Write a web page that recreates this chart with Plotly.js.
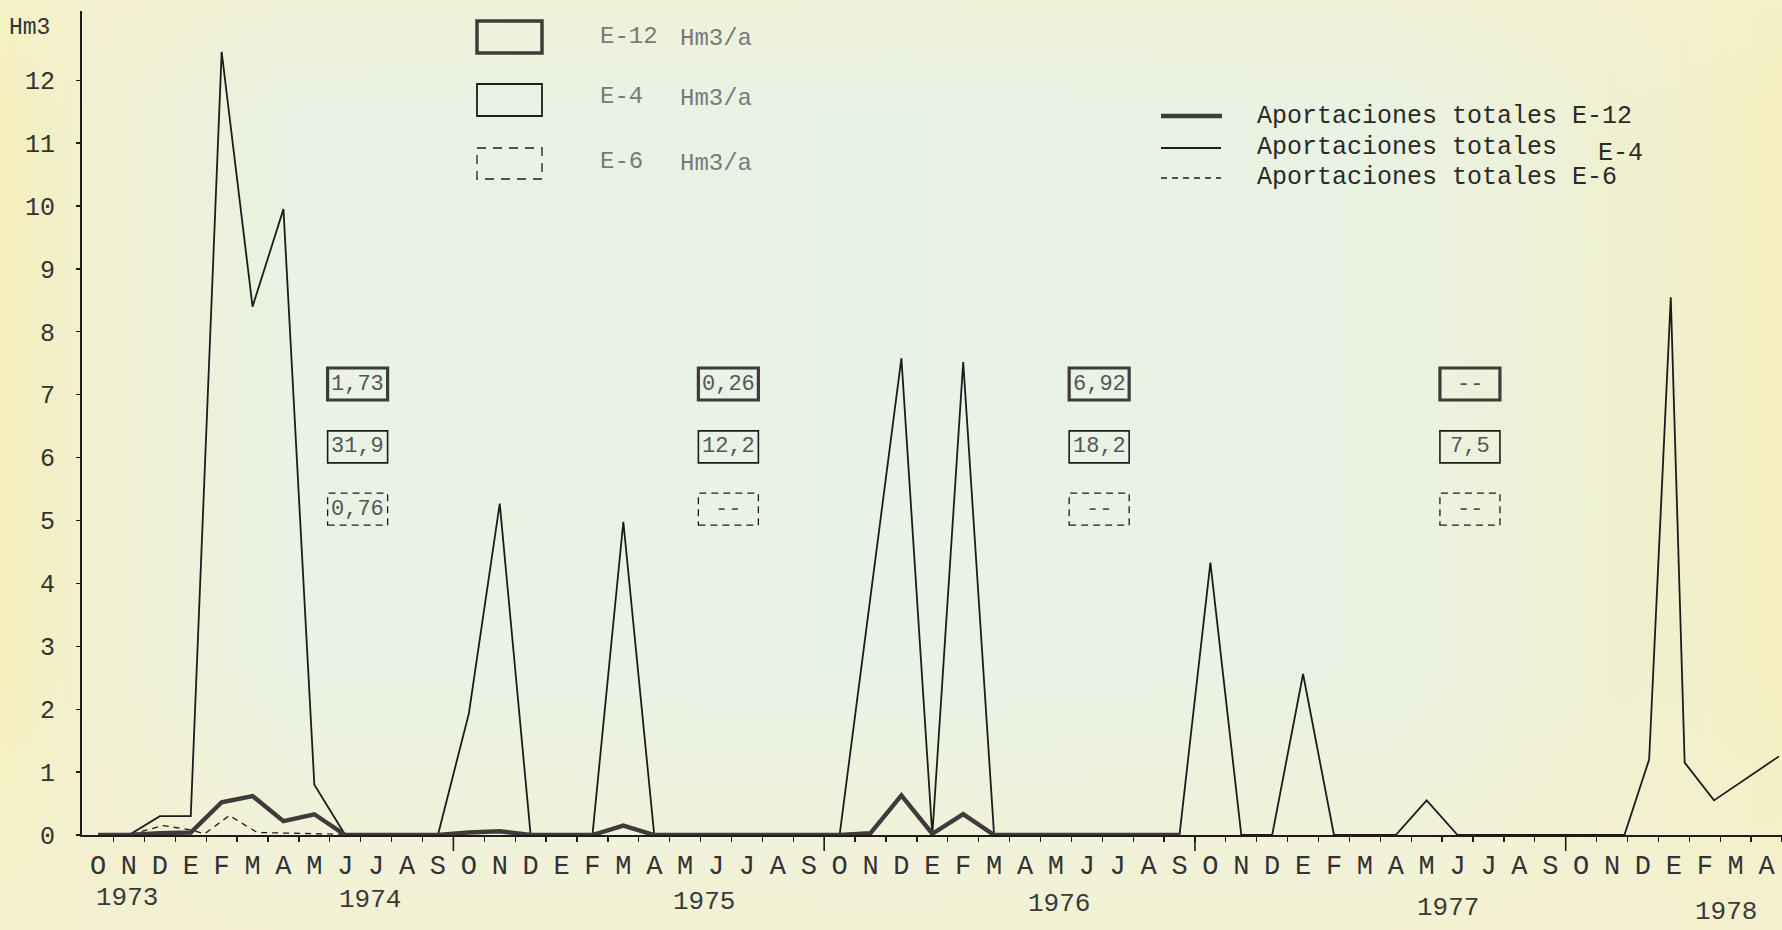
<!DOCTYPE html>
<html>
<head>
<meta charset="utf-8">
<script src="https://cdn.plot.ly/plotly-3.0.1.min.js"></script>
<style>
  html, body { margin: 0; padding: 0; }
  body {
    width: 1782px; height: 930px; overflow: hidden;
    background:
      linear-gradient(to bottom, rgba(245,241,205,0.55) 0%, rgba(245,241,205,0) 12%, rgba(245,241,205,0) 72%, rgba(245,241,208,0.85) 100%),
      linear-gradient(to right, #f6efbd 0%, #f1f0d0 5%, #eaf2e3 16%, #e9f2e6 50%, #eaf2e2 78%, #f1f0cd 94%, #f5eec0 100%);
  }
  #chart { width: 1782px; height: 930px; }
</style>
</head>
<body>
<div id="chart"></div>
<script>
// ---------------- DATA ----------------
// month index 0 = October 1973 (hydrological years Oct-Sep)
const monthLabels = ['O','N','D','E','F','M','A','M','J','J','A','S',
                     'O','N','D','E','F','M','A','M','J','J','A','S',
                     'O','N','D','E','F','M','A','M','J','J','A','S',
                     'O','N','D','E','F','M','A','M','J','J','A','S',
                     'O','N','D','E','F','M','A'];
const yearLabels = ['1973','1974','1975','1976','1977','1978'];

// Aportaciones totales E-12 (Hm3)
const e12X = [0,1,2,3,4,5,6,7,8,9,10,11,12,13,14,15,16,17,18,19,20,21,22,23,24,25,26,27,28,29,30,31,32,33,34,35];
const e12Y = [0,0,0.03,0.04,0.52,0.62,0.22,0.33,0,0,0,0,0.04,0.06,0,0,0,0.15,0,0,0,0,0,0,0,0.03,0.63,0.02,0.33,0,0,0,0,0,0,0];

// Aportaciones totales E-4 (Hm3)
const e4X = [0,1,2,3,4,5,6,7,8, 11,12,13,14, 16,17,18, 24,25,26,27,28,29, 35,36,37, 38,39,40, 42,43,44, 49.4,50.2,50.9,51.35,52.3,54.4];
const e4Y = [0,0,0.3,0.3,12.45,8.4,9.95,0.8,0, 0,1.93,5.27,0, 0,4.98,0, 0,3.79,7.58,0,7.52,0, 0,4.33,0, 0,2.56,0, 0,0.55,0, 0,1.2,8.55,1.15,0.55,1.25];

// Aportaciones totales E-6 (Hm3)
const e6X = [0,1,2.1,3.0,3.45,4.25,5.15,6,7,8,9,10,11];
const e6Y = [0,0,0.15,0.08,0.02,0.31,0.04,0.03,0.02,0,0,0,0];

// Annual totals per hydrological year (Hm3/a)
const boxE12 = ['1,73','0,26','6,92','--'];
const boxE4  = ['31,9','12,2','18,2','7,5'];
const boxE6  = ['0,76','--','--','--'];

// ---------------- LAYOUT HELPERS ----------------
const W = 1782, H = 930;
const ML = 82, MR = 0, MT = 11, MB = 95;
const PW = W - ML - MR, PH = H - MT - MB;
const px = x => (x - ML) / PW;          // pixel -> paper x
const py = y => (H - MB - y) / PH;      // pixel -> paper y

const FONT = '"Liberation Mono", "DejaVu Sans Mono", monospace';
const INK = '#1c1c1c';
const THICK = '#403a3a';

const traces = [
  { x: e4X, y: e4Y, type: 'scatter', mode: 'lines', name: 'E-4',
    line: { color: INK, width: 1.8 }, hoverinfo: 'skip' },
  { x: e6X, y: e6Y, type: 'scatter', mode: 'lines', name: 'E-6',
    line: { color: INK, width: 1.3, dash: '6px,5px' }, hoverinfo: 'skip' },
  { x: e12X, y: e12Y, type: 'scatter', mode: 'lines', name: 'E-12',
    line: { color: THICK, width: 4.4 }, hoverinfo: 'skip' }
];

const shapes = [];
const annotations = [];

// top-left "Hm3"
annotations.push({ xref: 'paper', yref: 'paper', x: px(29), y: py(28), text: 'Hm3',
  showarrow: false, xanchor: 'center', yanchor: 'middle',
  font: { family: FONT, size: 23, color: '#333' } });

// legend boxes (top middle)
const legBoxX0 = 477, legBoxX1 = 542;
shapes.push({ type: 'rect', xref: 'paper', yref: 'paper', x0: px(legBoxX0), x1: px(legBoxX1), y0: py(21), y1: py(53),
  line: { color: THICK, width: 3.5 } });
shapes.push({ type: 'rect', xref: 'paper', yref: 'paper', x0: px(legBoxX0), x1: px(legBoxX1), y0: py(84), y1: py(116),
  line: { color: INK, width: 1.8 } });
shapes.push({ type: 'rect', xref: 'paper', yref: 'paper', x0: px(legBoxX0), x1: px(legBoxX1), y0: py(148), y1: py(179),
  line: { color: INK, width: 1.3, dash: '9px,7px' } });
const legNames = ['E-12', 'E-4', 'E-6'];
const legY = [37, 96, 162];
legNames.forEach((n, k) => {
  annotations.push({ xref: 'paper', yref: 'paper', x: px(598), y: py(legY[k]), text: n,
    showarrow: false, xanchor: 'left', yanchor: 'middle', font: { family: FONT, size: 24, color: '#7a7a7a' } });
  annotations.push({ xref: 'paper', yref: 'paper', x: px(678), y: py(legY[k] + 2), text: 'Hm3/a',
    showarrow: false, xanchor: 'left', yanchor: 'middle', font: { family: FONT, size: 24, color: '#7a7a7a' } });
});

// right legend (lines)
shapes.push({ type: 'line', xref: 'paper', yref: 'paper', x0: px(1161), x1: px(1222), y0: py(116), y1: py(116),
  line: { color: THICK, width: 4.4 } });
shapes.push({ type: 'line', xref: 'paper', yref: 'paper', x0: px(1161), x1: px(1221), y0: py(148), y1: py(148),
  line: { color: INK, width: 2 } });
shapes.push({ type: 'line', xref: 'paper', yref: 'paper', x0: px(1161), x1: px(1221), y0: py(178), y1: py(178),
  line: { color: INK, width: 1.3, dash: '6px,5px' } });
const RL = { family: FONT, size: 25, color: '#2a2a2a' };
annotations.push({ xref: 'paper', yref: 'paper', x: px(1255), y: py(116), text: 'Aportaciones totales E-12',
  showarrow: false, xanchor: 'left', yanchor: 'middle', font: RL });
annotations.push({ xref: 'paper', yref: 'paper', x: px(1255), y: py(147), text: 'Aportaciones totales',
  showarrow: false, xanchor: 'left', yanchor: 'middle', font: RL });
annotations.push({ xref: 'paper', yref: 'paper', x: px(1596), y: py(153), text: 'E-4',
  showarrow: false, xanchor: 'left', yanchor: 'middle', font: RL });
annotations.push({ xref: 'paper', yref: 'paper', x: px(1255), y: py(178), text: 'Aportaciones totales E-6',
  showarrow: false, xanchor: 'left', yanchor: 'middle', font: RL });

// annual total boxes
const rowY = [7.17, 6.17, 5.18];
const rowVals = [boxE12, boxE4, boxE6];
const rowLine = [
  { color: THICK, width: 3.2 },
  { color: INK, width: 1.6 },
  { color: INK, width: 1.3, dash: '7px,5px' }
];
for (let k = 0; k < 4; k++) {
  const cx = 8.4 + 12 * k;
  for (let r = 0; r < 3; r++) {
    shapes.push({ type: 'rect', xref: 'x', yref: 'y', xsizemode: 'pixel', ysizemode: 'pixel',
      xanchor: cx, yanchor: rowY[r], x0: -30, x1: 30, y0: -16, y1: 16, line: rowLine[r] });
    annotations.push({ xref: 'x', yref: 'y', x: cx, y: rowY[r], text: rowVals[r][k], showarrow: false,
      xanchor: 'center', yanchor: 'middle', font: { family: FONT, size: 22, color: '#555' } });
  }
}

// year separator ticks (S|O)
[11.5, 23.5, 35.5, 47.5].forEach(b => {
  shapes.push({ type: 'line', xref: 'x', yref: 'paper', x0: b, x1: b, y0: 0, y1: -16 / PH,
    line: { color: INK, width: 1.6 } });
});

// year labels
const yearPos = [0.95, 8.8, 19.6, 31.1, 43.7, 52.7];
const yearPy = [898, 900, 902, 904, 908, 912];
yearLabels.forEach((t, k) => {
  annotations.push({ xref: 'x', yref: 'paper', x: yearPos[k], y: py(yearPy[k]), text: t, showarrow: false,
    xanchor: 'center', yanchor: 'middle', font: { family: FONT, size: 26, color: '#3a3a3a' } });
});

const tickIdx = monthLabels.map((_, i) => i);
const layout = {
  width: W, height: H,
  margin: { l: ML, r: MR, t: MT, b: MB, pad: 0 },
  paper_bgcolor: 'rgba(0,0,0,0)',
  plot_bgcolor: 'rgba(0,0,0,0)',
  showlegend: false,
  xaxis: {
    range: [-0.52, 54.5], tickmode: 'array', tickvals: tickIdx, ticktext: monthLabels,
    ticks: '', showgrid: false, zeroline: false, showline: true, linecolor: INK, linewidth: 2,
    tickfont: { family: FONT, size: 27, color: '#333' }, ticklabelstandoff: 5,
    minor: { tickmode: 'array', tickvals: tickIdx.map(i => i + 0.5), ticks: 'outside', ticklen: 5, tickwidth: 1.3, tickcolor: INK, showgrid: false },
    fixedrange: true
  },
  yaxis: {
    range: [0, 13.1], tickmode: 'array', tickvals: [0,1,2,3,4,5,6,7,8,9,10,11,12],
    ticks: 'outside', ticklen: 4, tickwidth: 1.3, tickcolor: INK,
    showgrid: false, zeroline: false, showline: true, linecolor: INK, linewidth: 2,
    tickfont: { family: FONT, size: 25, color: '#333' }, ticklabelstandoff: 16,
    fixedrange: true
  },
  shapes: shapes,
  annotations: annotations
};

Plotly.newPlot('chart', traces, layout, { staticPlot: true, displayModeBar: false });
</script>
</body>
</html>
